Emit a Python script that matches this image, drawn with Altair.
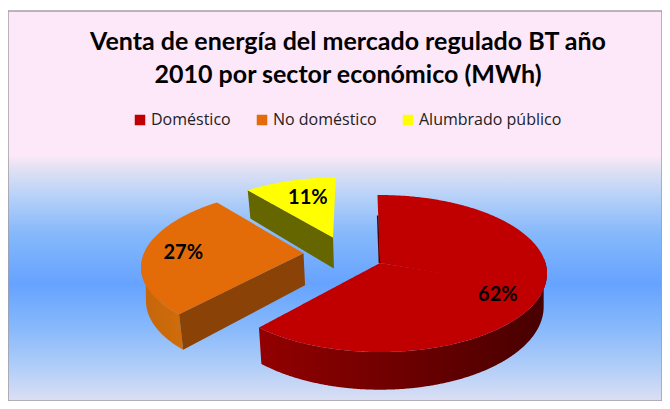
import math
import altair as alt
import pandas as pd

# --- values
sectors = ["Doméstico", "No doméstico", "Alumbrado público"]
shares = [61.7, 27.45, 10.85]
colors = ["#C00000", "#E36C09", "#FFFF00"]
title_lines = ["Venta de energía del mercado regulado  BT año", "2010 por sector económico (MWh)"]

# --- layout of the tilted pie
W, H = 654, 393
OX, OY = 8, 8
CX, CY, A, B, K = 380, 263, 165.5, 77.1, 0.134
START = -1.0
EXPLODE = [(0, 0), (-0.47, -0.128), (-0.297, -0.345)]
RADIUS = [1.0, 0.98, 0.96]
LABEL_R = [0.78, 0.74, 0.63]
LABEL_SHIFT = [10, 0, 2.6]


def project(wx, wy):
    w = 1 - K * wy
    return CX + A * wx / w, CY + B * wy / w


def drop(p):
    x, y = p
    return CX + 0.98 * (x - CX), y + 33.5 + 0.058 * (y - 280)


def rim(deg, i):
    t = math.radians(deg)
    ex = EXPLODE[i]
    return project(RADIUS[i] * math.sin(t) + ex[0], -RADIUS[i] * math.cos(t) + ex[1])


def arc_pts(a0, a1, i):
    n = max(2, int(abs(a1 - a0) * 1.5))
    return [rim(a0 + (a1 - a0) * k / n, i) for k in range(n + 1)]


def envelope(poly):
    xs = sorted({round(p[0], 3) for p in poly})
    out = []
    for x0 in xs:
        for x in (x0 - 0.01, x0 + 0.01):
            ys = []
            for (x1, y1), (x2, y2) in zip(poly, poly[1:] + poly[:1]):
                if (x1 - x) * (x2 - x) <= 0 and x1 != x2:
                    ys.append(y1 + (y2 - y1) * (x - x1) / (x2 - x1))
            if len(ys) >= 2:
                out.append((x, min(ys), max(ys)))
    return out


def wall(a0, a1, i):
    top = arc_pts(a0, a1, i)
    return top + [drop(p) for p in reversed(top)]


def radial_wall(a, i):
    apex = project(*EXPLODE[i])
    r = rim(a, i)
    return [apex, r, drop(r), drop(apex)]


def frame(poly, piece="", part=0):
    return pd.DataFrame(
        [dict(x=x, y=y, y2=y2, piece=piece, part=part) for x, y, y2 in envelope(poly)]
    )


edges = [START]
for s in shares:
    edges.append(edges[-1] + s * 3.6)

x_enc = alt.X("x:Q", scale=alt.Scale(domain=[OX, OX + W], nice=False), axis=None)
y_enc = alt.Y("y:Q", scale=alt.Scale(domain=[OY + H, OY], nice=False), axis=None, stack=None)


def hgrad(c0, c1):
    return alt.LinearGradient(
        gradient="linear", x1=0, x2=1, y1=0, y2=0,
        stops=[alt.GradientStop(color=c0, offset=0), alt.GradientStop(color=c1, offset=1)],
    )


def wall_layer(poly, fill):
    return alt.Chart(frame(poly)).mark_area(color=fill, interpolate="linear").encode(
        x=x_enc, y=y_enc, y2="y2:Q"
    )


# background
bg_stops = [("#FDE8FA", 0.0), ("#FDE8FA", 0.369), ("#E4E2F3", 0.40), ("#B4D0F8", 0.48),
            ("#86B8FB", 0.57), ("#66A3FF", 0.70), ("#86B8FB", 0.81), ("#AFCDF8", 0.91), ("#DCDFF3", 1.0)]
bg = alt.Chart(pd.DataFrame({"x": [OX], "x2": [OX + W], "y": [11], "y2": [OY + H]})).mark_rect(
    color=alt.LinearGradient(
        gradient="linear", x1=0, x2=0, y1=0, y2=1,
        stops=[alt.GradientStop(color=c, offset=o) for c, o in bg_stops],
    ),
    stroke="#A59FA5", strokeWidth=1.5,
).encode(x=x_enc, x2="x2:Q", y=y_enc, y2="y2:Q")

# side walls
red_wall = wall_layer(wall(edges[0] + 88, edges[1], 0), hgrad("#930000", "#470000"))
orange_outer = wall_layer(wall(edges[1], edges[1] + 62, 1), hgrad("#C4660C", "#D06C0A"))
orange_radial = wall_layer(radial_wall(edges[1], 1), "#8A4206")
yellow_radial = wall_layer(radial_wall(edges[2], 2), "#666600")

# top faces (each split into parts no wider than a half turn)
rows = []
for i, name in enumerate(sectors):
    a0, a1 = edges[i], edges[i + 1]
    n = 1 if a1 - a0 < 170 else 2
    for j in range(n):
        b0 = a0 + (a1 - a0) * j / n - (1 if j else 0)
        b1 = a0 + (a1 - a0) * (j + 1) / n
        poly = [project(*EXPLODE[i])] + arc_pts(b0, b1, i)
        rows.append(frame(poly, name, j))
tops = alt.Chart(pd.concat(rows)).mark_area(interpolate="linear").encode(
    x=x_enc, y=y_enc, y2="y2:Q", detail="part:N",
    color=alt.Color(
        "piece:N",
        scale=alt.Scale(domain=sectors, range=colors),
        sort=sectors,
        legend=alt.Legend(
            title=None, orient="none", legendX=124, legendY=104, direction="horizontal", columns=3,
            symbolType="square", symbolSize=110, symbolStrokeWidth=0, symbolOffset=0,
            labelFont="Open Sans", labelFontSize=16, labelColor="#222222",
            labelOffset=3, columnPadding=23,
        ),
    ),
)

# thin dark edge of the large slice, beside its first radius
apex0 = project(*EXPLODE[0])
rim0 = rim(edges[0], 0)
edge_df = pd.DataFrame({
    "x": [rim0[0] + (apex0[0] - rim0[0]) * 0.3 - 0.6, apex0[0] - 0.6],
    "y": [rim0[1] + (apex0[1] - rim0[1]) * 0.3, apex0[1]],
})
dark_edge = alt.Chart(edge_df).mark_line(color="#500000", strokeWidth=1.5).encode(x=x_enc, y=y_enc)

# percentage labels
label_rows = []
for i, s in enumerate(shares):
    mid = math.radians((edges[i] + edges[i + 1]) / 2 + LABEL_SHIFT[i])
    lx, ly = project(LABEL_R[i] * math.sin(mid) + EXPLODE[i][0], -LABEL_R[i] * math.cos(mid) + EXPLODE[i][1])
    label_rows.append(dict(x=lx, y=ly, t=f"{math.floor(s + 0.5)}%"))
labels = alt.Chart(pd.DataFrame(label_rows)).mark_text(
    font="Lato", fontWeight="bold", fontSize=20, color="#000000", baseline="middle", align="center"
).encode(x=x_enc, y=y_enc, text="t:N")

chart = alt.layer(bg, red_wall, orange_outer, orange_radial, yellow_radial, tops, dark_edge, labels).properties(
    width=W, height=H, padding=0, autosize=alt.AutoSizeParams(type="none"),
    title=alt.TitleParams(
        text=title_lines, anchor="middle", frame="group", font="Lato", fontWeight="bold",
        fontSize=25, lineHeight=33, color="#000000", dx=13, dy=84,
    ),
).configure_view(stroke=None)

chart.save("out.html", embed_options={"renderer": "svg", "actions": False})
